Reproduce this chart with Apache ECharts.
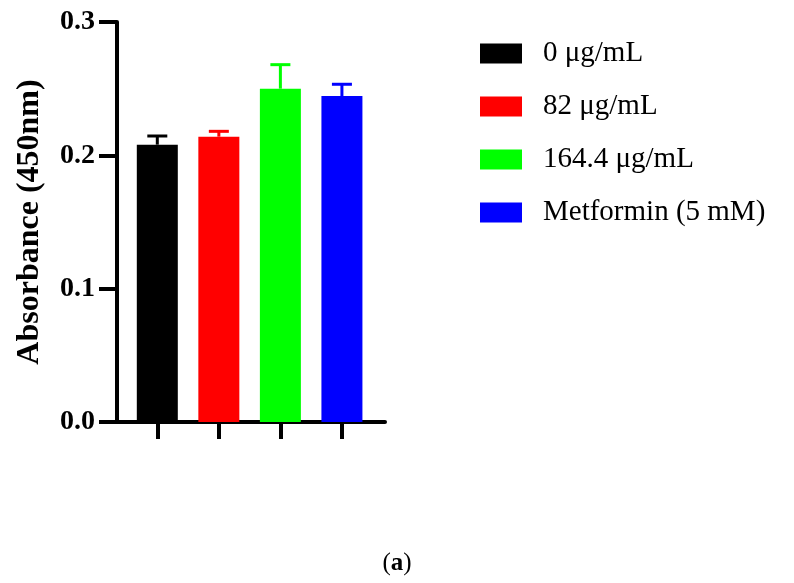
<!DOCTYPE html>
<html>
<head>
<meta charset="UTF-8">
<title>absorbance_bar</title>
<script src="https://cdn.jsdelivr.net/npm/echarts@6/dist/echarts.min.js"></script>
<style>
  html, body { margin: 0; padding: 0; background: #fff; }
  #main { width: 794px; height: 583px; }
</style>
</head>
<body>
<div id="main"></div>
<script>
// data
var groups = ['0 μg/mL', '82 μg/mL', '164.4 μg/mL', 'Metformin (5 mM)'];
var means  = [0.208, 0.214, 0.250, 0.2445];
var errs   = [0.0065, 0.004, 0.018, 0.0088];
var colors = ['#000000', '#ff0000', '#00ff00', '#0000ff'];
var yTicks = [0, 0.1, 0.2, 0.3];

var serif = '"Liberation Serif", "Times New Roman", serif';
var myChart = echarts.init(document.getElementById('main'));

// one bar series per group so the legend lists them
var series = groups.map(function (g, i) {
  return {
    name: g,
    type: 'bar',
    barWidth: 41,
    barGap: '-100%',
    itemStyle: { color: colors[i] },
    data: [[i, means[i]]],
    z: 2
  };
});

// SEM whiskers (upper only)
series.push({
  type: 'custom',
  name: 'err',
  z: 3,
  data: groups.map(function (g, i) { return [i, means[i], means[i] + errs[i]]; }),
  encode: { x: 0, y: [1, 2] },
  renderItem: function (params, api) {
    var x = api.value(0);
    var lo = api.coord([x, api.value(1)]);
    var hi = api.coord([x, api.value(2)]);
    var c = colors[params.dataIndex];
    var half = 10;
    return {
      type: 'group',
      children: [
        { type: 'line', shape: { x1: lo[0], y1: lo[1], x2: hi[0], y2: hi[1] },
          style: { stroke: c, lineWidth: 3 } },
        { type: 'line', shape: { x1: hi[0] - half, y1: hi[1], x2: hi[0] + half, y2: hi[1] },
          style: { stroke: c, lineWidth: 3 } }
      ]
    };
  }
});

var option = {
  backgroundColor: '#fff',
  animation: false,
  title: {
    text: '{n|(}{b|a}{n|)}',
    left: 'center',
    top: 546,
    textStyle: {
      rich: {
        n: { fontFamily: serif, fontSize: 25, fontWeight: 'normal', color: '#000' },
        b: { fontFamily: serif, fontSize: 25, fontWeight: 'bold', color: '#000' }
      }
    }
  },
  legend: {
    data: groups,
    orient: 'vertical',
    left: 475,
    top: 34,
    itemWidth: 42,
    itemHeight: 20,
    itemGap: 24,
    icon: 'rect',
    textStyle: { fontFamily: serif, fontSize: 29, color: '#000', padding: [0, 0, 0, 16] }
  },
  grid: { left: 117, top: 22, width: 268, height: 400 },
  xAxis: {
    type: 'value',
    min: -0.655,
    max: 3.7,
    splitLine: { show: false },
    axisLabel: { show: false },
    axisLine: { show: true, onZero: false, lineStyle: { color: '#000', width: 4 } },
    axisTick: { show: true, customValues: [0, 1, 2, 3], length: 17, lineStyle: { color: '#000', width: 4 } }
  },
  yAxis: {
    type: 'value',
    min: yTicks[0],
    max: yTicks[yTicks.length - 1],
    interval: 0.1,
    name: 'Absorbance (450nm)',
    nameLocation: 'middle',
    nameGap: 71,
    nameTextStyle: { fontFamily: serif, fontSize: 32, fontWeight: 'bold', color: '#000' },
    splitLine: { show: false },
    axisLine: { show: true, onZero: false, lineStyle: { color: '#000', width: 4 } },
    axisTick: { show: true, length: 18, lineStyle: { color: '#000', width: 4 } },
    axisLabel: {
      margin: 22,
      fontFamily: serif,
      fontSize: 28,
      fontWeight: 'bold',
      color: '#000',
      formatter: function (v) { return v.toFixed(1); }
    }
  },
  series: series
};
myChart.setOption(option);
</script>
</body>
</html>
